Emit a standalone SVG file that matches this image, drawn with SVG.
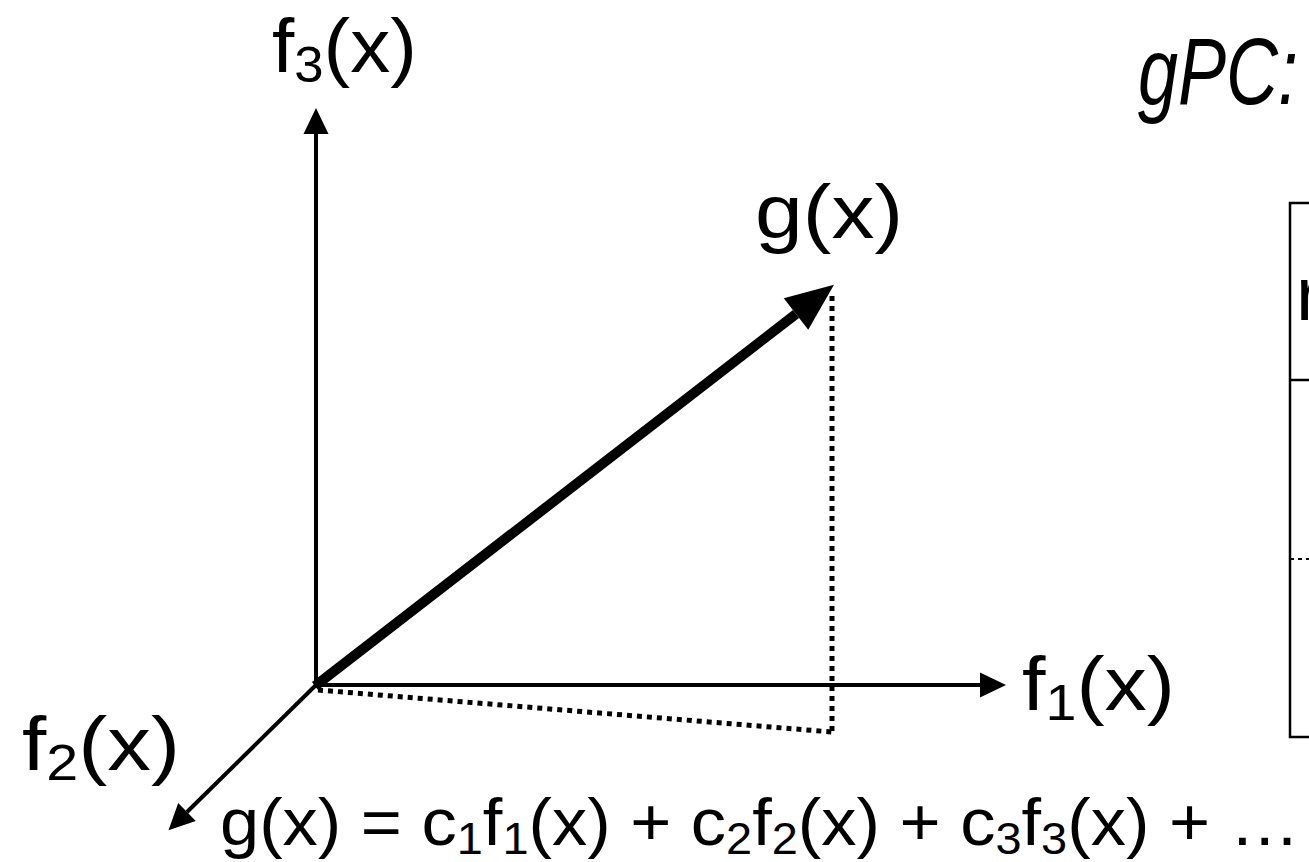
<svg xmlns="http://www.w3.org/2000/svg" width="1309" height="862" viewBox="0 0 1309 862">
<defs>
<style>
.t{font-family:"Liberation Sans","DejaVu Sans",sans-serif;fill:#000}
.lbl{font-size:76px}
.sub{font-size:50px}
.ax{stroke:#000;stroke-width:4;fill:none}
.dot{stroke:#000;stroke-width:5;fill:none;stroke-dasharray:5 5}
.box{stroke:#000;stroke-width:2.5;fill:none}
</style>
<marker id="ah" markerUnits="userSpaceOnUse" viewBox="0 -13 26 26" refX="0" refY="0" markerWidth="26" markerHeight="26" orient="auto" overflow="visible">
<path d="M0,-12.5 L26,0 L0,12.5 z" fill="#000"/>
</marker>
<marker id="bh" markerUnits="userSpaceOnUse" viewBox="0 -21 48 42" refX="0" refY="0" markerWidth="48" markerHeight="42" orient="auto" overflow="visible">
<path d="M0,-20 L48,0 L0,20 z" fill="#000"/>
</marker>
</defs>
<rect width="1309" height="862" fill="#fff"/>

<g id="connectors">
<line id="axis-f3" class="ax" x1="316" y1="688" x2="316" y2="134" marker-end="url(#ah)"/>
<line id="axis-f1" class="ax" x1="314" y1="685" x2="980" y2="685" marker-end="url(#ah)"/>
<line id="axis-f2" class="ax" x1="316" y1="685" x2="187" y2="812" marker-end="url(#ah)"/>
<line id="vector-g" stroke="#000" stroke-width="10" x1="315" y1="686" x2="796" y2="314" marker-end="url(#bh)"/>
<line id="proj-vert" class="dot" x1="832" y1="296" x2="832" y2="732"/>
<line id="proj-diag" class="dot" x1="318" y1="690" x2="832" y2="732"/>
</g>

<g id="label-f3">
<text class="t lbl" x="272" y="72" textLength="145" lengthAdjust="spacingAndGlyphs">f<tspan class="sub" dy="10">3</tspan><tspan dy="-10">(x)</tspan></text>
</g>
<g id="label-g">
<text class="t lbl" x="755" y="238" textLength="148" lengthAdjust="spacingAndGlyphs">g(x)</text>
</g>
<g id="label-f1">
<text class="t lbl" x="1022" y="710" textLength="153" lengthAdjust="spacingAndGlyphs">f<tspan class="sub" dy="10">1</tspan><tspan dy="-10">(x)</tspan></text>
</g>
<g id="label-f2">
<text class="t lbl" x="22" y="770" textLength="158" lengthAdjust="spacingAndGlyphs">f<tspan class="sub" dy="10">2</tspan><tspan dy="-10">(x)</tspan></text>
</g>
<g id="title">
<text class="t" transform="translate(1138,104) scale(1,1.3)" x="0" y="0" font-size="72" font-style="italic">gPC:</text>
</g>
<g id="table">
<rect class="box" x="1290" y="203" width="40" height="534"/>
<line class="box" x1="1290" y1="380" x2="1309" y2="380"/>
<line stroke="#000" stroke-width="2" stroke-dasharray="4 4" x1="1290" y1="559" x2="1309" y2="559"/>
<text class="t lbl" x="1296" y="320">r</text>
</g>
<g id="formula">
<text class="t" x="220" y="845" font-size="66" textLength="1080" lengthAdjust="spacingAndGlyphs">g(x) = c<tspan font-size="44" dy="9">1</tspan><tspan dy="-9">f</tspan><tspan font-size="44" dy="9">1</tspan><tspan dy="-9">(x) + c</tspan><tspan font-size="44" dy="9">2</tspan><tspan dy="-9">f</tspan><tspan font-size="44" dy="9">2</tspan><tspan dy="-9">(x) + c</tspan><tspan font-size="44" dy="9">3</tspan><tspan dy="-9">f</tspan><tspan font-size="44" dy="9">3</tspan><tspan dy="-9">(x) + …</tspan></text>
</g>
</svg>
